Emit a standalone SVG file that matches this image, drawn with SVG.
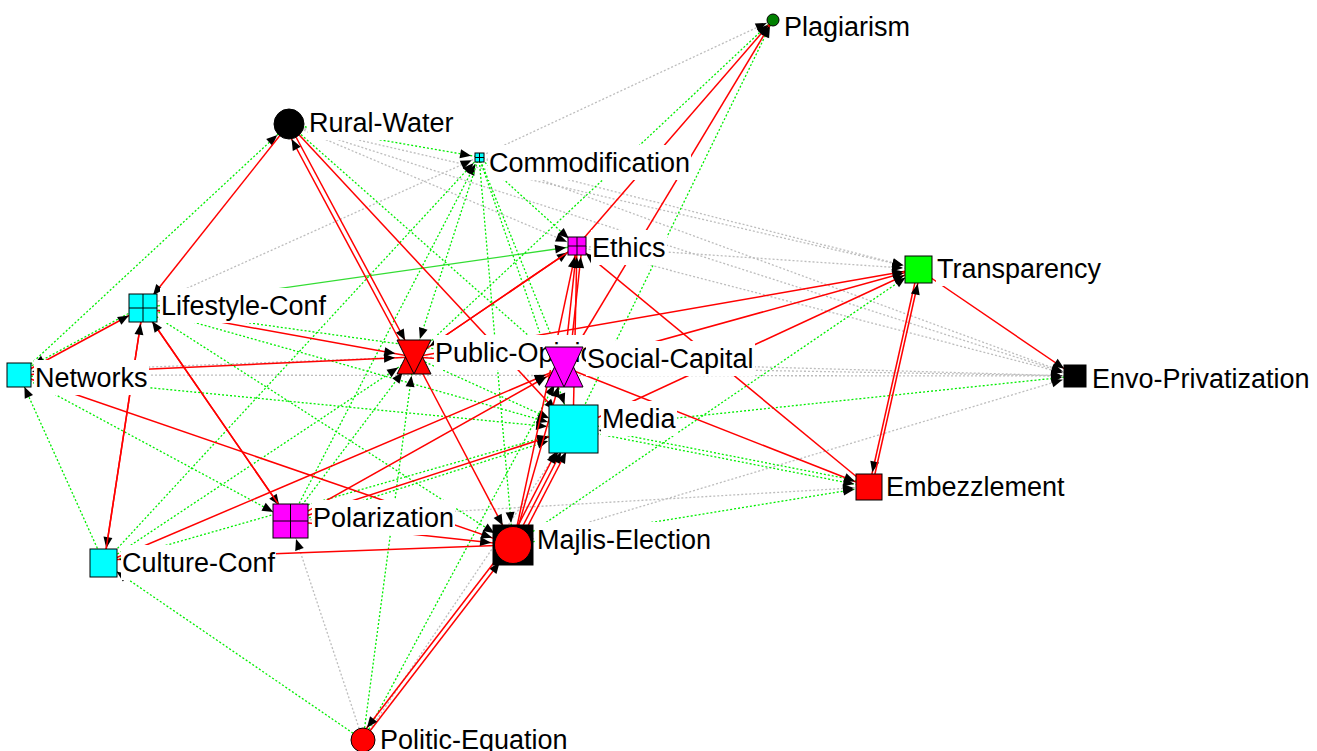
<svg xmlns="http://www.w3.org/2000/svg" width="1317" height="751" viewBox="0 0 1317 751">
<style>
.r{stroke:#FF0000;stroke-width:1.5;fill:none}
.g{stroke:#00EE00;stroke-width:1.3;stroke-dasharray:2 2;fill:none}
.gs{stroke:#33DD33;stroke-width:1.3;fill:none}
.y{stroke:#BDBDBD;stroke-width:1.3;stroke-dasharray:2 2;fill:none}
.lb{fill:#FFFFFF}
.t{font-family:"Liberation Sans",Arial,sans-serif;font-size:27px;fill:#000}
.n{stroke:#000;stroke-width:1}
.x{stroke:#000;stroke-width:1;fill:none}
</style>
<defs>
<marker id="m7" markerUnits="userSpaceOnUse" markerWidth="12" markerHeight="10" refX="18" refY="4.5" orient="auto" overflow="visible"><path d="M0,0 L11,4.5 L0,9 z" fill="#000"/></marker>
<marker id="m8" markerUnits="userSpaceOnUse" markerWidth="12" markerHeight="10" refX="19" refY="4.5" orient="auto" overflow="visible"><path d="M0,0 L11,4.5 L0,9 z" fill="#000"/></marker>
<marker id="m11" markerUnits="userSpaceOnUse" markerWidth="12" markerHeight="10" refX="22" refY="4.5" orient="auto" overflow="visible"><path d="M0,0 L11,4.5 L0,9 z" fill="#000"/></marker>
<marker id="m13" markerUnits="userSpaceOnUse" markerWidth="12" markerHeight="10" refX="24" refY="4.5" orient="auto" overflow="visible"><path d="M0,0 L11,4.5 L0,9 z" fill="#000"/></marker>
<marker id="m15" markerUnits="userSpaceOnUse" markerWidth="12" markerHeight="10" refX="26" refY="4.5" orient="auto" overflow="visible"><path d="M0,0 L11,4.5 L0,9 z" fill="#000"/></marker>
<marker id="m16" markerUnits="userSpaceOnUse" markerWidth="12" markerHeight="10" refX="27" refY="4.5" orient="auto" overflow="visible"><path d="M0,0 L11,4.5 L0,9 z" fill="#000"/></marker>
<marker id="m19" markerUnits="userSpaceOnUse" markerWidth="12" markerHeight="10" refX="30" refY="4.5" orient="auto" overflow="visible"><path d="M0,0 L11,4.5 L0,9 z" fill="#000"/></marker>
<marker id="m20" markerUnits="userSpaceOnUse" markerWidth="12" markerHeight="10" refX="31" refY="4.5" orient="auto" overflow="visible"><path d="M0,0 L11,4.5 L0,9 z" fill="#000"/></marker>
<marker id="m22" markerUnits="userSpaceOnUse" markerWidth="12" markerHeight="10" refX="33" refY="4.5" orient="auto" overflow="visible"><path d="M0,0 L11,4.5 L0,9 z" fill="#000"/></marker>
<marker id="m26" markerUnits="userSpaceOnUse" markerWidth="12" markerHeight="10" refX="37" refY="4.5" orient="auto" overflow="visible"><path d="M0,0 L11,4.5 L0,9 z" fill="#000"/></marker>
</defs>
<rect width="1317" height="751" fill="#FFFFFF"/>
<g id="connectors">
<!-- gray dotted -->
<line class="y" x1="479" y1="157" x2="773" y2="20" marker-end="url(#m7)"/>
<line class="y" x1="289" y1="124" x2="918" y2="269" marker-end="url(#m15)"/>
<line class="y" x1="289" y1="124" x2="1075" y2="376" marker-end="url(#m13)"/>
<line class="y" x1="289" y1="124" x2="577" y2="246" marker-end="url(#m11)"/>
<line class="y" x1="479" y1="157" x2="918" y2="269" marker-end="url(#m15)"/>
<line class="y" x1="479" y1="157" x2="1075" y2="376" marker-end="url(#m13)"/>
<line class="y" x1="577" y1="246" x2="918" y2="269" marker-end="url(#m15)"/>
<line class="y" x1="577" y1="246" x2="1075" y2="376" marker-end="url(#m13)"/>
<line class="y" x1="564" y1="367" x2="1075" y2="376" marker-end="url(#m13)"/>
<line class="y" x1="414" y1="357" x2="1075" y2="376" marker-end="url(#m13)"/>
<line class="y" x1="19" y1="375" x2="1075" y2="376" marker-end="url(#m13)"/>
<line class="y" x1="513" y1="545" x2="1075" y2="376" marker-end="url(#m13)"/>
<line class="y" x1="414" y1="357" x2="19" y2="372" marker-end="url(#m13)"/>
<line class="y" x1="143" y1="308" x2="479" y2="157" marker-end="url(#m8)"/>
<line class="y" x1="363" y1="740" x2="290" y2="521" marker-end="url(#m19)"/>
<line class="y" x1="363" y1="740" x2="573" y2="429" marker-end="url(#m26)"/>
<line class="y" x1="290" y1="521" x2="869" y2="487" marker-end="url(#m15)"/>
<!-- green dotted -->
<line class="g" x1="19" y1="375" x2="289" y2="124" marker-end="url(#m16)"/>
<line class="g" x1="289" y1="124" x2="479" y2="157" marker-end="url(#m8)"/>
<line class="g" x1="146" y1="304" x2="22" y2="371" marker-end="url(#m13)"/>
<line class="g" x1="19" y1="375" x2="573" y2="429" marker-end="url(#m26)"/>
<line class="g" x1="19" y1="375" x2="290" y2="521" marker-end="url(#m19)"/>
<line class="g" x1="104" y1="563" x2="19" y2="375" marker-end="url(#m13)"/>
<line class="gs" x1="143" y1="308" x2="577" y2="246" marker-end="url(#m11)"/>
<line class="g" x1="564" y1="367" x2="143" y2="308" marker-end="url(#m16)"/>
<line class="g" x1="143" y1="308" x2="513" y2="545" marker-end="url(#m22)"/>
<line class="g" x1="143" y1="308" x2="573" y2="429" marker-end="url(#m26)"/>
<line class="g" x1="104" y1="563" x2="414" y2="357" marker-end="url(#m19)"/>
<line class="g" x1="104" y1="563" x2="573" y2="429" marker-end="url(#m26)"/>
<line class="g" x1="104" y1="563" x2="479" y2="157" marker-end="url(#m8)"/>
<line class="g" x1="363" y1="740" x2="104" y2="563" marker-end="url(#m15)"/>
<line class="g" x1="290" y1="521" x2="414" y2="357" marker-end="url(#m19)"/>
<line class="g" x1="290" y1="521" x2="479" y2="157" marker-end="url(#m8)"/>
<line class="g" x1="290" y1="524" x2="573" y2="433" marker-end="url(#m26)"/>
<line class="g" x1="414" y1="357" x2="773" y2="20" marker-end="url(#m7)"/>
<line class="g" x1="479" y1="157" x2="414" y2="357" marker-end="url(#m19)"/>
<line class="g" x1="479" y1="157" x2="573" y2="429" marker-end="url(#m26)"/>
<line class="g" x1="479" y1="157" x2="564" y2="367" marker-end="url(#m20)"/>
<line class="g" x1="479" y1="157" x2="513" y2="545" marker-end="url(#m22)"/>
<line class="g" x1="479" y1="157" x2="577" y2="246" marker-end="url(#m11)"/>
<line class="g" x1="573" y1="429" x2="773" y2="20" marker-end="url(#m7)"/>
<line class="g" x1="363" y1="740" x2="414" y2="357" marker-end="url(#m19)"/>
<line class="g" x1="363" y1="740" x2="564" y2="367" marker-end="url(#m20)"/>
<line class="g" x1="513" y1="545" x2="869" y2="487" marker-end="url(#m15)"/>
<line class="g" x1="513" y1="545" x2="918" y2="269" marker-end="url(#m15)"/>
<line class="g" x1="573" y1="429" x2="869" y2="487" marker-end="url(#m15)"/>
<line class="g" x1="869" y1="483" x2="573" y2="425" marker-end="url(#m26)"/>
<line class="g" x1="573" y1="429" x2="1075" y2="376" marker-end="url(#m13)"/>
<line class="g" x1="289" y1="124" x2="564" y2="367" marker-end="url(#m20)"/>
<line class="g" x1="414" y1="357" x2="573" y2="429" marker-end="url(#m26)"/>
<!-- red -->
<line class="r" x1="289" y1="124" x2="414" y2="357" marker-end="url(#m19)"/>
<line class="r" x1="409" y1="358" x2="284" y2="125" marker-end="url(#m16)"/>
<line class="r" x1="289" y1="124" x2="143" y2="308" marker-end="url(#m16)"/>
<line class="r" x1="289" y1="124" x2="573" y2="429" marker-end="url(#m26)"/>
<line class="r" x1="19" y1="375" x2="143" y2="308" marker-end="url(#m16)"/>
<line class="r" x1="19" y1="375" x2="414" y2="357" marker-end="url(#m19)"/>
<line class="r" x1="19" y1="375" x2="513" y2="545" marker-end="url(#m22)"/>
<line class="r" x1="143" y1="308" x2="414" y2="357" marker-end="url(#m19)"/>
<line class="r" x1="143" y1="308" x2="290" y2="521" marker-end="url(#m19)"/>
<line class="r" x1="290" y1="521" x2="143" y2="308" marker-end="url(#m16)"/>
<line class="r" x1="143" y1="308" x2="104" y2="563" marker-end="url(#m15)"/>
<line class="r" x1="104" y1="563" x2="143" y2="308" marker-end="url(#m16)"/>
<line class="r" x1="513" y1="545" x2="104" y2="560" marker-end="url(#m15)"/>
<line class="r" x1="104" y1="563" x2="564" y2="367" marker-end="url(#m20)"/>
<line class="r" x1="290" y1="521" x2="564" y2="367" marker-end="url(#m20)"/>
<line class="r" x1="290" y1="521" x2="573" y2="429" marker-end="url(#m26)"/>
<line class="r" x1="290" y1="521" x2="513" y2="545" marker-end="url(#m22)"/>
<line class="r" x1="414" y1="357" x2="513" y2="545" marker-end="url(#m22)"/>
<line class="r" x1="513" y1="545" x2="564" y2="367" marker-end="url(#m20)"/>
<line class="r" x1="513" y1="545" x2="573" y2="429" marker-end="url(#m26)"/>
<line class="r" x1="508" y1="545" x2="568" y2="429" marker-end="url(#m26)"/>
<line class="r" x1="518" y1="545" x2="578" y2="429" marker-end="url(#m26)"/>
<line class="r" x1="363" y1="740" x2="513" y2="545" marker-end="url(#m22)"/>
<line class="r" x1="509" y1="543" x2="359" y2="738" marker-end="url(#m13)"/>
<line class="r" x1="577" y1="246" x2="564" y2="367" marker-end="url(#m20)"/>
<line class="r" x1="569" y1="367" x2="582" y2="246" marker-end="url(#m11)"/>
<line class="r" x1="573" y1="429" x2="577" y2="246" marker-end="url(#m11)"/>
<line class="r" x1="414" y1="357" x2="577" y2="246" marker-end="url(#m11)"/>
<line class="r" x1="577" y1="246" x2="414" y2="357" marker-end="url(#m19)"/>
<line class="r" x1="513" y1="545" x2="577" y2="246" marker-end="url(#m11)"/>
<line class="r" x1="577" y1="246" x2="773" y2="20" marker-end="url(#m7)"/>
<line class="r" x1="564" y1="367" x2="773" y2="20" marker-end="url(#m7)"/>
<line class="r" x1="564" y1="367" x2="918" y2="269" marker-end="url(#m15)"/>
<line class="r" x1="414" y1="357" x2="918" y2="269" marker-end="url(#m15)"/>
<line class="r" x1="573" y1="429" x2="918" y2="269" marker-end="url(#m15)"/>
<line class="r" x1="918" y1="269" x2="1075" y2="376" marker-end="url(#m13)"/>
<line class="r" x1="918" y1="269" x2="869" y2="487" marker-end="url(#m15)"/>
<line class="r" x1="872" y1="487" x2="921" y2="269" marker-end="url(#m15)"/>
<line class="r" x1="564" y1="367" x2="869" y2="487" marker-end="url(#m15)"/>
<line class="r" x1="869" y1="487" x2="577" y2="246" marker-end="url(#m11)"/>
<line class="r" x1="414" y1="357" x2="564" y2="367" marker-end="url(#m20)"/>
</g>
<g id="node-plagiarism">
<circle class="n" cx="773" cy="20" r="6" fill="#008000"/>
<rect class="lb" x="783" y="9" width="128" height="35"/>
<text class="t" x="784" y="36">Plagiarism</text>
</g>
<g id="node-rural-water">
<circle class="n" cx="289" cy="124" r="15" fill="#000"/>
<rect class="lb" x="308" y="105" width="148" height="35"/>
<text class="t" x="309" y="132">Rural-Water</text>
</g>
<g id="node-commodification">
<rect class="n" x="475" y="153" width="9" height="9" fill="#00FFFF"/>
<path class="x" d="M479.5,153 V162 M475,157.5 H484"/>
<rect class="lb" x="488" y="145" width="203" height="35"/>
<text class="t" x="489" y="172">Commodification</text>
</g>
<g id="node-ethics">
<rect class="n" x="568" y="237" width="18" height="18" fill="#FF00FF"/>
<path class="x" d="M577,237 V255 M568,246 H586"/>
<rect class="lb" x="591" y="230" width="76" height="35"/>
<text class="t" x="592" y="257">Ethics</text>
</g>
<g id="node-transparency">
<rect class="n" x="905" y="256" width="27" height="27" fill="#00FF00"/>
<rect class="lb" x="936" y="251" width="167" height="35"/>
<text class="t" x="937" y="278">Transparency</text>
</g>
<g id="node-lifestyle-conf">
<rect class="n" x="129" y="294" width="28" height="28" fill="#00FFFF"/>
<path class="x" d="M143,294 V322 M129,308 H157"/>
<rect class="lb" x="160" y="288" width="167" height="35"/>
<text class="t" x="161" y="315">Lifestyle-Conf</text>
</g>
<g id="node-networks">
<rect class="n" x="7" y="363" width="24" height="24" fill="#00FFFF"/>
<rect class="lb" x="34" y="360" width="115" height="35"/>
<text class="t" x="35" y="387">Networks</text>
</g>
<g id="node-public-opinion">
<rect class="lb" x="434" y="335" width="178" height="35"/>
<text class="t" x="435" y="362">Public-Opinion</text>
<polygon class="n" points="397,374 431,374 414,340" fill="#FF0000"/>
<polygon class="n" points="397,340 431,340 414,374" fill="#FF0000"/>
</g>
<g id="node-social-capital">
<polygon class="n" points="545,387 583,387 564,347" fill="#FF00FF"/>
<polygon class="n" points="545,347 583,347 564,387" fill="#FF00FF"/>
<rect class="lb" x="586" y="341" width="169" height="35"/>
<text class="t" x="587" y="368">Social-Capital</text>
</g>
<g id="node-media">
<rect class="n" x="549" y="405" width="49" height="48" fill="#00FFFF"/>
<rect class="lb" x="601" y="401" width="76" height="35"/>
<text class="t" x="602" y="428">Media</text>
</g>
<g id="node-envo-privatization">
<rect class="n" x="1064" y="365" width="22" height="22" fill="#000"/>
<rect class="lb" x="1091" y="361" width="220" height="35"/>
<text class="t" x="1092" y="388">Envo-Privatization</text>
</g>
<g id="node-embezzlement">
<rect class="n" x="856" y="474" width="26" height="26" fill="#FF0000"/>
<rect class="lb" x="885" y="469" width="181" height="35"/>
<text class="t" x="886" y="496">Embezzlement</text>
</g>
<g id="node-polarization">
<rect class="n" x="273" y="504" width="35" height="34" fill="#FF00FF"/>
<path class="x" d="M290.5,504 V538 M273,521 H308"/>
<rect class="lb" x="312" y="500" width="143" height="35"/>
<text class="t" x="313" y="527">Polarization</text>
</g>
<g id="node-majlis-election">
<rect class="n" x="493" y="525" width="40" height="40" fill="#000"/>
<circle class="n" cx="513" cy="545" r="18.5" fill="#FF0000"/>
<rect class="lb" x="536" y="522" width="176" height="35"/>
<text class="t" x="537" y="549">Majlis-Election</text>
</g>
<g id="node-culture-conf">
<rect class="n" x="90" y="549" width="27" height="28" fill="#00FFFF"/>
<rect class="lb" x="121" y="545" width="155" height="35"/>
<text class="t" x="122" y="572">Culture-Conf</text>
</g>
<g id="node-politic-equation">
<circle class="n" cx="363" cy="740" r="12" fill="#FF0000"/>
<rect class="lb" x="379" y="722" width="190" height="35"/>
<text class="t" x="380" y="749">Politic-Equation</text>
</g>
</svg>
